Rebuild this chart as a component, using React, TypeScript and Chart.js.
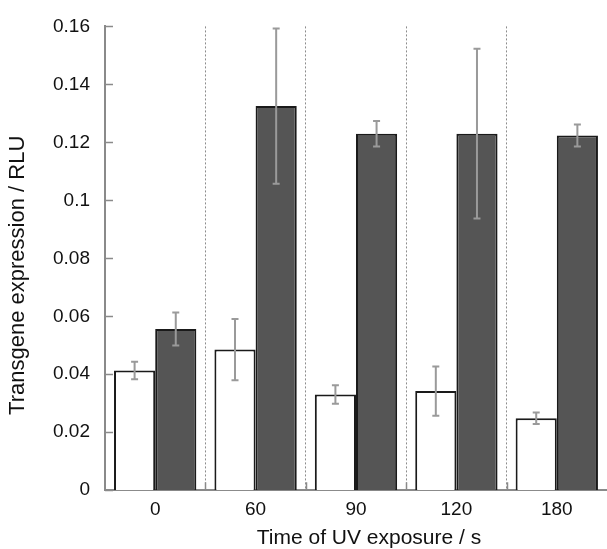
import React, { useEffect, useRef } from "react";
import { Chart, registerables } from "chart.js";

Chart.register(...registerables);

const categories = ["0", "60", "90", "120", "180"];
const controlValues = [0.0413, 0.0485, 0.033, 0.0342, 0.0248];
const controlErrors = [0.003, 0.0106, 0.0032, 0.0085, 0.002];
const uvValues = [0.0556, 0.1325, 0.123, 0.123, 0.1224];
const uvErrors = [0.0057, 0.0268, 0.0044, 0.0293, 0.0038];
const yTicks = [0, 0.02, 0.04, 0.06, 0.08, 0.1, 0.12, 0.14, 0.16];
const xTitle = "Time of UV exposure / s";
const yTitle = "Transgene expression / RLU";

const FONT = "'Liberation Sans', Arial, Helvetica, sans-serif";
const AXIS_GRAY = "#8a8a8a";

const errorBarPlugin = {
  id: "errorBars",
  afterDatasetsDraw(chart: any) {
    const ctx = chart.ctx;
    const y = chart.scales.y;
    const errs = [controlErrors, uvErrors];
    chart.data.datasets.forEach((ds: any, i: number) => {
      const meta = chart.getDatasetMeta(i);
      meta.data.forEach((bar: any, j: number) => {
        const v = ds.data[j];
        const e = errs[i][j];
        const top = y.getPixelForValue(v + e);
        const bot = y.getPixelForValue(v - e);
        const cap = 3.5;
        ctx.save();
        ctx.strokeStyle = "#9a9a9a";
        ctx.lineWidth = 2;
        ctx.beginPath();
        ctx.moveTo(bar.x, top);
        ctx.lineTo(bar.x, bot);
        ctx.moveTo(bar.x - cap, top);
        ctx.lineTo(bar.x + cap, top);
        ctx.moveTo(bar.x - cap, bot);
        ctx.lineTo(bar.x + cap, bot);
        ctx.stroke();
        ctx.restore();
      });
    });
  },
};

const innerTicksPlugin = {
  id: "innerTicks",
  afterDraw(chart: any) {
    const ctx = chart.ctx;
    const x = chart.scales.x;
    const y = chart.scales.y;
    const area = chart.chartArea;
    ctx.save();
    ctx.strokeStyle = AXIS_GRAY;
    ctx.lineWidth = 1.5;
    ctx.beginPath();
    y.ticks.forEach((t: any) => {
      const py = Math.round(y.getPixelForValue(t.value)) + 0.5;
      ctx.moveTo(area.left, py);
      ctx.lineTo(area.left + 8, py);
    });
    const half = (x.getPixelForValue(1) - x.getPixelForValue(0)) / 2;
    for (let i = 1; i < categories.length; i++) {
      const px = Math.round(x.getPixelForValue(i) - half) + 0.5;
      ctx.moveTo(px, area.bottom);
      ctx.lineTo(px, area.bottom - 8);
    }
    ctx.stroke();
    ctx.restore();
  },
};

const axisTitlesPlugin = {
  id: "axisTitles",
  afterDraw(chart: any) {
    const ctx = chart.ctx;
    const area = chart.chartArea;
    ctx.save();
    ctx.fillStyle = "#111";
    ctx.textAlign = "center";
    ctx.textBaseline = "middle";
    ctx.font = `21px ${FONT}`;
    ctx.fillText(xTitle, (area.left + area.right) / 2 + 13, chart.height - 11);
    ctx.translate(18, (area.top + area.bottom) / 2 + 17);
    ctx.rotate(-Math.PI / 2);
    ctx.font = `22px ${FONT}`;
    ctx.fillText(yTitle, 0, 0);
    ctx.restore();
  },
};

export default function App() {
  const canvasRef = useRef<HTMLCanvasElement | null>(null);

  useEffect(() => {
    if (!canvasRef.current) return;
    const chart = new Chart(canvasRef.current, {
      type: "bar",
      data: {
        labels: categories,
        datasets: [
          {
            label: "Control",
            data: controlValues,
            backgroundColor: "#ffffff",
            borderColor: "#1a1a1a",
            borderWidth: 2,
            categoryPercentage: 0.82,
            barPercentage: 1,
          },
          {
            label: "UV",
            data: uvValues,
            backgroundColor: "#555555",
            borderColor: "#1a1a1a",
            borderWidth: 2,
            categoryPercentage: 0.82,
            barPercentage: 1,
          },
        ],
      },
      options: {
        animation: false,
        responsive: true,
        maintainAspectRatio: false,
        layout: { padding: { left: 38, right: 0, top: 16, bottom: 20 } },
        plugins: {
          legend: { display: false },
          tooltip: { enabled: false },
        },
        scales: {
          x: {
            grid: {
              display: true,
              offset: true,
              drawTicks: false,
              tickLength: 0,
              color: (ctx: any) => (ctx.index === 0 ? "rgba(0,0,0,0)" : "#8c8c8c"),
              lineWidth: 1,
            },
            border: { display: true, color: AXIS_GRAY, width: 2, dash: [2, 2] },
            ticks: {
              color: "#111",
              padding: 8,
              font: { family: FONT, size: 19 },
            },
            title: { display: false },
          },
          y: {
            min: 0,
            max: 0.16,
            afterBuildTicks: (scale: any) => {
              scale.ticks = yTicks.map((v) => ({ value: v }));
            },
            grid: { display: false, drawTicks: false, tickLength: 0 },
            border: { display: true, color: AXIS_GRAY, width: 2 },
            ticks: {
              color: "#111",
              padding: 15,
              font: { family: FONT, size: 19 },
              callback: (v: any) => String(Number(Number(v).toFixed(2))),
            },
            title: { display: false },
          },
        },
      },
      plugins: [errorBarPlugin, innerTicksPlugin, axisTitlesPlugin],
    });
    return () => chart.destroy();
  }, []);

  return (
    <div style={{ position: "absolute", left: 0, top: 0, width: 607, height: 549, background: "#fff" }}>
      <canvas ref={canvasRef} />
    </div>
  );
}
